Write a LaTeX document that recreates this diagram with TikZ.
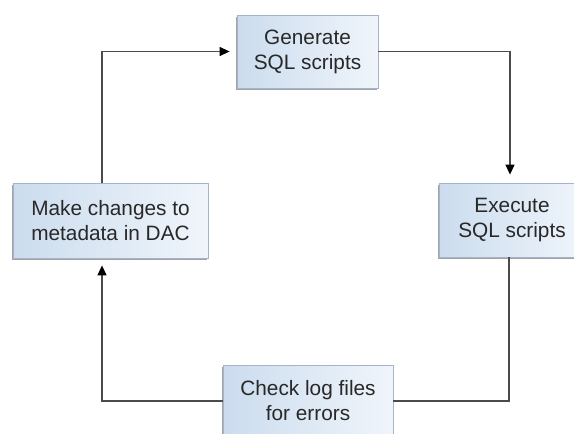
\documentclass[tikz,border=0pt]{standalone}
\usepackage{fontspec}
\setmainfont{Liberation Sans}
\usetikzlibrary{arrows.meta,shadows}
\definecolor{boxleft}{RGB}{203,220,238}
\definecolor{boxright}{RGB}{240,245,251}
\definecolor{boxline}{RGB}{165,180,200}
\definecolor{wire}{RGB}{75,75,75}
\definecolor{textgray}{RGB}{40,40,40}
\begin{document}
\begin{tikzpicture}[x=1pt,y=-1pt,
    stepbox/.style={draw=boxline, line width=0.8pt, left color=boxleft, right color=boxright,
        text=textgray, align=center, inner sep=0pt,
        font=\fontsize{20.8}{25}\selectfont,
        drop shadow={shadow xshift=-1pt, shadow yshift=-1.5pt, fill=black!45, opacity=0.8}},
    wireline/.style={draw=wire, line width=1.3pt},
    arr/.style={wireline, -{Triangle[length=10pt,width=9pt,color=black]}, shorten >=7pt}]
    \useasboundingbox (0,0) rectangle (574,434);
    % the four steps of the loop
    \node[stepbox, minimum width=141pt, minimum height=73pt] (gen) at (307.5,51.5) {Generate\\SQL scripts};
    \node[stepbox, minimum width=146pt, minimum height=74pt] (exe) at (512,220) {Execute\\SQL scripts};
    \node[stepbox, minimum width=170pt, minimum height=72pt] (chk) at (308,401) {Check log files\\for errors};
    \node[stepbox, minimum width=195pt, minimum height=75pt] (mk) at (110.5,220.5) {Make changes to\\metadata in DAC};

    % the connectors, going round clockwise
    \draw[arr] ([xshift=-8.5pt]mk.north) |- (gen);
    \draw[arr, shorten >=8pt] (gen) -| ([xshift=-2pt]exe.north);
    \draw[wireline] ([xshift=-3pt]exe.south) |- (chk);
    \draw[arr] (chk) -| ([xshift=-8.5pt]mk.south);
\end{tikzpicture}
\end{document}
